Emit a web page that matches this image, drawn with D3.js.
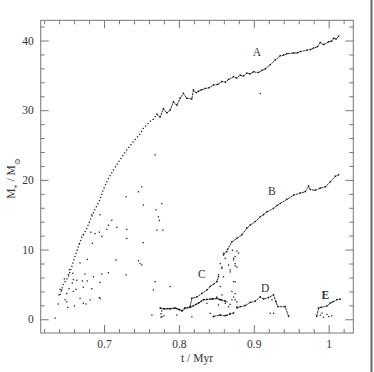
<!DOCTYPE html>
<html>
<head>
<meta charset="utf-8">
<script src="https://cdn.jsdelivr.net/npm/d3@7"></script>
<style>
    body { margin: 0; background: #fff; }
    svg { display: block; }
    text { font-family: "Liberation Serif", "DejaVu Serif", serif; fill: #333; }
</style>
</head>
<body>
<svg id="chart" width="374" height="372"></svg>
<script>
'use strict';

// [t in Myr, mass in Msun]
var curveAEarly = [
    [0.6412, 3.5], [0.6456, 5.0], [0.6523, 6.1], [0.6568, 7.5], [0.6612, 9.0],
    [0.6657, 10.4], [0.6702, 11.8], [0.6769, 13.0], [0.6813, 14.2], [0.6880, 15.8],
    [0.6947, 17.2], [0.6990, 18.6], [0.7058, 20.2], [0.7124, 21.4], [0.7214, 22.9],
    [0.7303, 24.3], [0.7392, 25.5], [0.7481, 26.6], [0.7525, 27.4], [0.7615, 28.4],
    [0.7660, 28.7], [0.7705, 29.4]
];

var curveA = [
    [0.7705, 29.4], [0.7749, 29.0], [0.7793, 30.2], [0.7838, 29.6], [0.7882, 30.0],
    [0.7927, 31.2], [0.7972, 30.7], [0.8016, 31.7], [0.8060, 32.4], [0.8105, 31.7],
    [0.8172, 31.6], [0.8194, 32.9], [0.8230, 32.5], [0.8260, 32.7], [0.8300, 32.9],
    [0.8350, 33.1], [0.8400, 33.2], [0.8461, 33.6], [0.8520, 33.7], [0.8573, 34.1],
    [0.8620, 34.0], [0.8662, 34.4], [0.8729, 34.8], [0.8770, 34.6], [0.8818, 35.0],
    [0.8860, 34.9], [0.8908, 35.3], [0.8950, 35.2], [0.8996, 35.5], [0.9063, 35.4],
    [0.9110, 35.7], [0.9152, 35.9], [0.9219, 36.5], [0.9286, 37.2], [0.9353, 37.8],
    [0.9400, 37.9], [0.9443, 38.1], [0.9531, 38.2], [0.9580, 38.2], [0.9620, 38.4],
    [0.9710, 38.6], [0.9760, 38.7], [0.9798, 38.9], [0.9850, 39.1], [0.9888, 39.7],
    [0.9932, 39.4], [0.9999, 39.8], [1.0040, 39.9], [1.0066, 40.3], [1.0100, 40.2],
    [1.0132, 40.6]
];

var curveB = [
    [0.8595, 9.2], [0.8650, 10.0], [0.8707, 11.1], [0.8774, 11.6], [0.8841, 12.1],
    [0.8908, 13.1], [0.8952, 13.5], [0.9019, 14.0], [0.9086, 14.7], [0.9130, 15.0],
    [0.9175, 15.4], [0.9263, 15.9], [0.9310, 16.3], [0.9353, 16.6], [0.9442, 17.2],
    [0.9531, 17.8], [0.9620, 18.1], [0.9687, 18.3], [0.9731, 19.1], [0.9754, 18.6],
    [0.9820, 18.5], [0.9888, 18.8], [0.9955, 19.0], [1.0021, 19.7], [1.0088, 20.5],
    [1.0132, 20.7]
];

var curveC = [
    [0.8150, 1.8], [0.8172, 3.0], [0.8239, 3.2], [0.8306, 3.7], [0.8373, 4.2],
    [0.8417, 4.7], [0.8461, 5.0], [0.8506, 5.4], [0.8528, 6.1]
];

var curveBase = [
    [0.7749, 1.6], [0.7800, 1.5], [0.7880, 1.5], [0.7950, 1.6], [0.8000, 1.4],
    [0.8040, 1.2], [0.8080, 1.6], [0.8150, 1.7], [0.8260, 2.3], [0.8328, 2.8],
    [0.8439, 2.9], [0.8506, 3.0], [0.8560, 2.8], [0.8620, 2.6]
];

var curveD = [
    [0.8774, 1.6], [0.8818, 1.8], [0.8885, 1.95], [0.8952, 2.4], [0.9019, 2.6],
    [0.9086, 3.2], [0.9130, 2.9], [0.9197, 3.1], [0.9263, 3.5], [0.9296, 2.5],
    [0.9322, 1.8], [0.9420, 1.8], [0.9465, 0.4]
];

var curveLow = [
    [0.8461, 0.4], [0.8550, 0.6], [0.8620, 0.5], [0.8680, 0.7], [0.8730, 0.9]
];

var curveE = [
    [0.9840, 0.4], [0.9865, 1.6], [0.9900, 1.7], [0.9977, 1.9], [1.0020, 2.3],
    [1.0057, 2.5], [1.0110, 2.8], [1.0155, 2.85]
];

var scatter = [
    [0.6947, 15.0], [0.7170, 13.2], [0.7303, 12.9], [0.7057, 13.5], [0.7036, 12.9],
    [0.6822, 12.5], [0.6937, 12.5], [0.6969, 11.9], [0.6723, 12.1], [0.6844, 10.9],
    [0.6670, 10.8], [0.7303, 11.6], [0.7525, 11.0], [0.7160, 8.5], [0.6777, 8.6],
    [0.6679, 8.1], [0.7459, 8.4], [0.7481, 8.0], [0.6969, 6.5], [0.7057, 6.7],
    [0.6857, 6.1], [0.6746, 6.5], [0.6635, 5.6], [0.6777, 5.5], [0.6710, 5.5],
    [0.6590, 5.7], [0.6523, 6.4], [0.6576, 5.2], [0.6532, 4.4], [0.6501, 3.7],
    [0.6590, 4.0], [0.6626, 4.3], [0.6679, 3.0], [0.6723, 4.6], [0.6836, 4.4],
    [0.6937, 3.1], [0.7294, 6.4], [0.6947, 5.3], [0.6723, 2.3], [0.6759, 2.2],
    [0.6813, 2.8], [0.6603, 1.9], [0.6501, 2.5], [0.6514, 1.7], [0.6388, 2.2],
    [0.6412, 4.3], [0.6434, 4.2], [0.6469, 5.8], [0.6398, 3.5], [0.6479, 2.8],
    [0.6536, 7.1], [0.6582, 6.6], [0.6345, 0.15],
    [0.7459, 18.3], [0.7504, 19.0], [0.7525, 16.4], [0.7294, 17.6], [0.7682, 23.6],
    [0.7695, 15.7], [0.7726, 14.7], [0.7771, 16.6], [0.7785, 12.8], [0.7705, 12.8],
    [0.7739, 14.2], [0.7682, 5.4], [0.7659, 4.2], [0.7504, 7.8], [0.6947, 3.0],
    [0.6836, 15.0], [0.6880, 12.3], [0.7103, 14.2], [0.9086, 32.4],
    [0.8595, 9.5], [0.8640, 9.7], [0.8715, 9.9], [0.8774, 9.8], [0.8751, 9.0],
    [0.8729, 8.5], [0.8618, 8.75], [0.8551, 8.0], [0.8662, 7.8], [0.8573, 7.3],
    [0.8751, 7.7], [0.8528, 6.4], [0.8595, 6.1], [0.8684, 6.8], [0.8506, 5.4],
    [0.8551, 4.7], [0.8751, 5.4], [0.8707, 4.0], [0.8573, 3.5], [0.8729, 3.2],
    [0.8751, 2.8], [0.8618, 2.3], [0.8528, 2.05], [0.8662, 1.8], [0.8684, 2.15],
    [0.8774, 1.8], [0.8373, 2.3], [0.8417, 0.86], [0.8461, 0.37], [0.8551, 0.6],
    [0.8640, 0.6], [0.8684, 0.86], [0.9219, 0.86], [0.9263, 0.86], [0.9242, 2.8],
    [0.8172, 0.37], [0.7972, 0.6], [0.7771, 0.37], [0.7638, 0.6], [0.7882, 4.7],
    [0.8729, 8.75], [0.8751, 8.0], [0.8774, 7.5], [0.8796, 9.5], [0.8684, 7.1],
    [0.8573, 7.5], [0.8729, 5.4], [0.8751, 3.7], [0.8707, 2.8], [0.8774, 2.5],
    [0.8640, 2.5], [0.8551, 2.8], [0.8506, 3.2],
    [0.7760, 0.3], [0.7760, 0.8], [0.7770, 1.2], [0.7800, 0.5],
    [0.9888, 0.6], [0.9930, 0.3], [0.9977, 0.7], [1.0000, 0.4], [1.0040, 0.5],
    [0.9910, 0.9]
];

var curveLabels = [
    { text: 'A', t: 0.904, m: 38.4 },
    { text: 'B', t: 0.9242, m: 18.45 },
    { text: 'C', t: 0.8306, m: 6.45 },
    { text: 'D', t: 0.9152, m: 4.5 },
    { text: 'E', t: 0.9955, m: 3.5, bold: true }
];

var xTicks = [0.7, 0.8, 0.9, 1],
    xTickLabels = ['0.7', '0.8', '0.9', '1'],
    yTicks = [0, 10, 20, 30, 40],
    yTickLabels = ['0', '10', '20', '30', '40'];

var svg = d3.select('#chart'),
    plotLeft = 40.7,
    plotRight = 353.3,
    plotTop = 20.3,
    plotBottom = 333,
    x = d3.scaleLinear().domain([0.6154, 1.0329]).range([plotLeft, plotRight]),
    y = d3.scaleLinear().domain([-1.97, 42.9]).range([plotBottom, plotTop]),
    xMinor = d3.range(0.62, 1.03, 0.02).filter(function (v) {
        return Math.abs(v * 10 - Math.round(v * 10)) > 0.01;
    }),
    yMinor = d3.range(2, 43, 2).filter(function (v) { return v % 10 !== 0; }),
    line = d3.line().x(function (d) { return x(d[0]); }).y(function (d) { return y(d[1]); });

svg.append('rect').attr('width', 374).attr('height', 372).attr('fill', '#fff');

function axis(maker, scale, values, size, labels, transform) {
    var a = maker(scale)
        .tickValues(values)
        .tickSize(-size)
        .tickPadding(7)
        .tickFormat(function (d, i) { return labels ? labels[i] : ''; });

    var g = svg.append('g')
        .attr('transform', transform)
        .call(a);

    g.select('.domain').remove();
    g.selectAll('line').attr('stroke', '#777');
    g.selectAll('text')
        .style('font-size', '11.5px')
        .style('font-family', '"Liberation Serif", serif')
        .attr('fill', '#333');
}

axis(d3.axisBottom, x, xTicks, 8, xTickLabels, 'translate(0,' + plotBottom + ')');
axis(d3.axisBottom, x, xMinor, 4, null, 'translate(0,' + plotBottom + ')');
axis(d3.axisTop, x, xTicks, 8, null, 'translate(0,' + plotTop + ')');
axis(d3.axisTop, x, xMinor, 4, null, 'translate(0,' + plotTop + ')');
axis(d3.axisLeft, y, yTicks, 8, yTickLabels, 'translate(' + plotLeft + ',0)');
axis(d3.axisLeft, y, yMinor, 4, null, 'translate(' + plotLeft + ',0)');
axis(d3.axisRight, y, yTicks, 8, null, 'translate(' + plotRight + ',0)');
axis(d3.axisRight, y, yMinor, 4, null, 'translate(' + plotRight + ',0)');

svg.append('rect')
    .attr('x', plotLeft).attr('y', plotTop)
    .attr('width', plotRight - plotLeft).attr('height', plotBottom - plotTop)
    .attr('fill', 'none').attr('stroke', '#777').attr('stroke-width', 1);

// page edge on the right
svg.append('line')
    .attr('x1', 371.5).attr('x2', 371.5).attr('y1', 0).attr('y2', 372)
    .attr('stroke', '#666').attr('stroke-width', 2);

var plot = svg.append('g');

plot.append('path')
    .datum(curveAEarly)
    .attr('d', line)
    .attr('fill', 'none')
    .attr('stroke', '#111')
    .attr('stroke-width', 1.3)
    .attr('stroke-dasharray', '1.2,2.2');

var traced = [curveA, curveB, curveC, curveBase, curveD, curveLow, curveE];

traced.forEach(function (c) {
    plot.append('path')
        .datum(c)
        .attr('d', line)
        .attr('fill', 'none')
        .attr('stroke', '#1a1a1a')
        .attr('stroke-width', c === curveBase ? 1.4 : 0.9)
        .attr('stroke-dasharray', '2.5,0.6');
});

// the sampled points themselves sit on the traces as little specks
plot.selectAll('rect.node')
    .data(d3.merge(traced))
    .enter()
    .append('rect')
    .attr('class', 'node')
    .attr('x', function (d) { return x(d[0]) - 0.7; })
    .attr('y', function (d) { return y(d[1]) - 0.9; })
    .attr('width', 1.4)
    .attr('height', 1.4)
    .attr('fill', '#111');

plot.selectAll('rect.dot')
    .data(scatter)
    .enter()
    .append('rect')
    .attr('class', 'dot')
    .attr('x', function (d) { return x(d[0]) - 0.6; })
    .attr('y', function (d) { return y(d[1]) - 0.6; })
    .attr('width', 1.3)
    .attr('height', 1.3)
    .attr('fill', '#222');

svg.selectAll('text.curve')
    .data(curveLabels)
    .enter()
    .append('text')
    .attr('class', 'curve')
    .attr('x', function (d) { return x(d.t); })
    .attr('y', function (d) { return y(d.m); })
    .attr('dy', '0.35em')
    .attr('text-anchor', 'middle')
    .style('font-size', '11.5px')
    .style('font-weight', function (d) { return d.bold ? 'bold' : 'normal'; })
    .text(function (d) { return d.text; });

svg.append('text')
    .attr('x', (plotLeft + plotRight) / 2)
    .attr('y', 362)
    .attr('text-anchor', 'middle')
    .style('font-size', '11.5px')
    .text('t  /  Myr');

var yTitle = svg.append('text')
    .attr('transform', 'translate(15,' + ((plotTop + plotBottom) / 2 + 2) + ') rotate(-90)')
    .attr('text-anchor', 'middle')
    .style('font-size', '11.5px');

yTitle.append('tspan').text('M');
yTitle.append('tspan').attr('baseline-shift', 'sub').style('font-size', '8px').text('*');
yTitle.append('tspan').text('  /  M');
yTitle.append('tspan').attr('baseline-shift', 'sub').style('font-size', '8px').text('⊙');
</script>
</body>
</html>
